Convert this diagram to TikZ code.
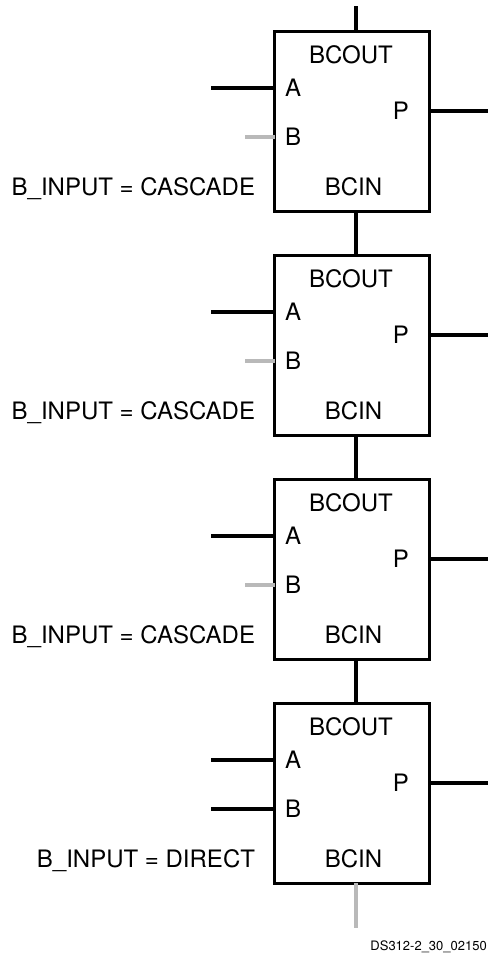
\documentclass[tikz,border=0pt]{standalone}
\usepackage{fontspec}
\setmainfont{TeX Gyre Heros}
\usetikzlibrary{positioning}
\tikzset{
  figfont/.style={font=\fontsize{24pt}{28pt}\selectfont},
  figbox/.style={draw, line width=3pt, minimum width=155pt, minimum height=180pt, outer sep=0pt},
  figlabel/.style={figfont, inner sep=0pt, outer sep=0pt, text height=17.5pt, text depth=0pt},
  figwire/.style={line width=4pt},
  figwiregray/.style={figwire, color=gray!55},
}

\begin{document}
\begin{tikzpicture}[node distance=44pt]
  \useasboundingbox (0,0) rectangle (488pt,-953pt);

  % Blocks, top to bottom
  \node[figbox] (B1) at (352pt,-121pt) {};
  \node[figbox, below=of B1] (B2) {};
  \node[figbox, below=of B2] (B3) {};
  \node[figbox, below=of B3] (B4) {};

  % Block 1 labels
  \node[figlabel, below=15pt of B1.north, xshift=-1pt] (B1out) {BCOUT};
  \node[figlabel, right=10.5pt of B1.west, yshift=33.5pt] (B1a) {A};
  \node[figlabel, right=10.5pt of B1.west, yshift=-15.5pt] (B1b) {B};
  \node[figlabel, left=20.5pt of B1.east, yshift=10pt] (B1p) {P};
  \node[figlabel, above=15.25pt of B1.south, xshift=1.5pt] (B1in) {BCIN};
  \node[figlabel, left=19.5pt of B1.west, yshift=-66pt] (B1mode) {B\_INPUT = CASCADE};

  % Block 2 labels
  \node[figlabel, below=15pt of B2.north, xshift=-1pt] (B2out) {BCOUT};
  \node[figlabel, right=10.5pt of B2.west, yshift=33.5pt] (B2a) {A};
  \node[figlabel, right=10.5pt of B2.west, yshift=-15.5pt] (B2b) {B};
  \node[figlabel, left=20.5pt of B2.east, yshift=10pt] (B2p) {P};
  \node[figlabel, above=15.25pt of B2.south, xshift=1.5pt] (B2in) {BCIN};
  \node[figlabel, left=19.5pt of B2.west, yshift=-66pt] (B2mode) {B\_INPUT = CASCADE};

  % Block 3 labels
  \node[figlabel, below=15pt of B3.north, xshift=-1pt] (B3out) {BCOUT};
  \node[figlabel, right=10.5pt of B3.west, yshift=33.5pt] (B3a) {A};
  \node[figlabel, right=10.5pt of B3.west, yshift=-15.5pt] (B3b) {B};
  \node[figlabel, left=20.5pt of B3.east, yshift=10pt] (B3p) {P};
  \node[figlabel, above=15.25pt of B3.south, xshift=1.5pt] (B3in) {BCIN};
  \node[figlabel, left=19.5pt of B3.west, yshift=-66pt] (B3mode) {B\_INPUT = CASCADE};

  % Block 4 labels
  \node[figlabel, below=15pt of B4.north, xshift=-1pt] (B4out) {BCOUT};
  \node[figlabel, right=10.5pt of B4.west, yshift=33.5pt] (B4a) {A};
  \node[figlabel, right=10.5pt of B4.west, yshift=-15.5pt] (B4b) {B};
  \node[figlabel, left=20.5pt of B4.east, yshift=10pt] (B4p) {P};
  \node[figlabel, above=15.25pt of B4.south, xshift=1.5pt] (B4in) {BCIN};
  \node[figlabel, left=19.5pt of B4.west, yshift=-66pt] (B4mode) {B\_INPUT = DIRECT};

  \node[font=\fontsize{13pt}{15pt}\selectfont, inner sep=0pt, anchor=east] (code) at (487pt,-946.5pt) {DS312-2\_30\_02150};

  % Free wire ends
  \coordinate[above=25pt of B1.north, xshift=3.5pt] (top);
  \coordinate[below=44.5pt of B4.south, xshift=3.5pt] (bottom);
  \coordinate[left=63.5pt of B1.west, yshift=33.5pt] (A1);
  \coordinate[left=29.5pt of B1.west, yshift=-15.5pt] (G1);
  \coordinate[right=58.5pt of B1.east, yshift=10pt] (P1);
  \coordinate[left=63.5pt of B2.west, yshift=33.5pt] (A2);
  \coordinate[left=29.5pt of B2.west, yshift=-15.5pt] (G2);
  \coordinate[right=58.5pt of B2.east, yshift=10pt] (P2);
  \coordinate[left=63.5pt of B3.west, yshift=33.5pt] (A3);
  \coordinate[left=29.5pt of B3.west, yshift=-15.5pt] (G3);
  \coordinate[right=58.5pt of B3.east, yshift=10pt] (P3);
  \coordinate[left=63.5pt of B4.west, yshift=33.5pt] (A4);
  \coordinate[left=63.5pt of B4.west, yshift=-15.5pt] (G4);
  \coordinate[right=58.5pt of B4.east, yshift=10pt] (P4);

  % Cascade wires
  \draw[figwire] (top) -- (top |- B1.north);
  \draw[figwire] ([xshift=3.5pt]B1.south) -- ([xshift=3.5pt]B2.north);
  \draw[figwire] ([xshift=3.5pt]B2.south) -- ([xshift=3.5pt]B3.north);
  \draw[figwire] ([xshift=3.5pt]B3.south) -- ([xshift=3.5pt]B4.north);
  \draw[figwiregray] ([xshift=3.5pt]B4.south) -- (bottom);

  % Input wires
  \draw[figwire] (A1) -- (A1 -| B1.west);
  \draw[figwiregray] (G1) -- (G1 -| B1.west);
  \draw[figwire] (A2) -- (A2 -| B2.west);
  \draw[figwiregray] (G2) -- (G2 -| B2.west);
  \draw[figwire] (A3) -- (A3 -| B3.west);
  \draw[figwiregray] (G3) -- (G3 -| B3.west);
  \draw[figwire] (A4) -- (A4 -| B4.west);
  \draw[figwire] (G4) -- (G4 -| B4.west);

  % Output wires
  \draw[figwire] (B1.east |- P1) -- (P1);
  \draw[figwire] (B2.east |- P2) -- (P2);
  \draw[figwire] (B3.east |- P3) -- (P3);
  \draw[figwire] (B4.east |- P4) -- (P4);
\end{tikzpicture}
\end{document}
